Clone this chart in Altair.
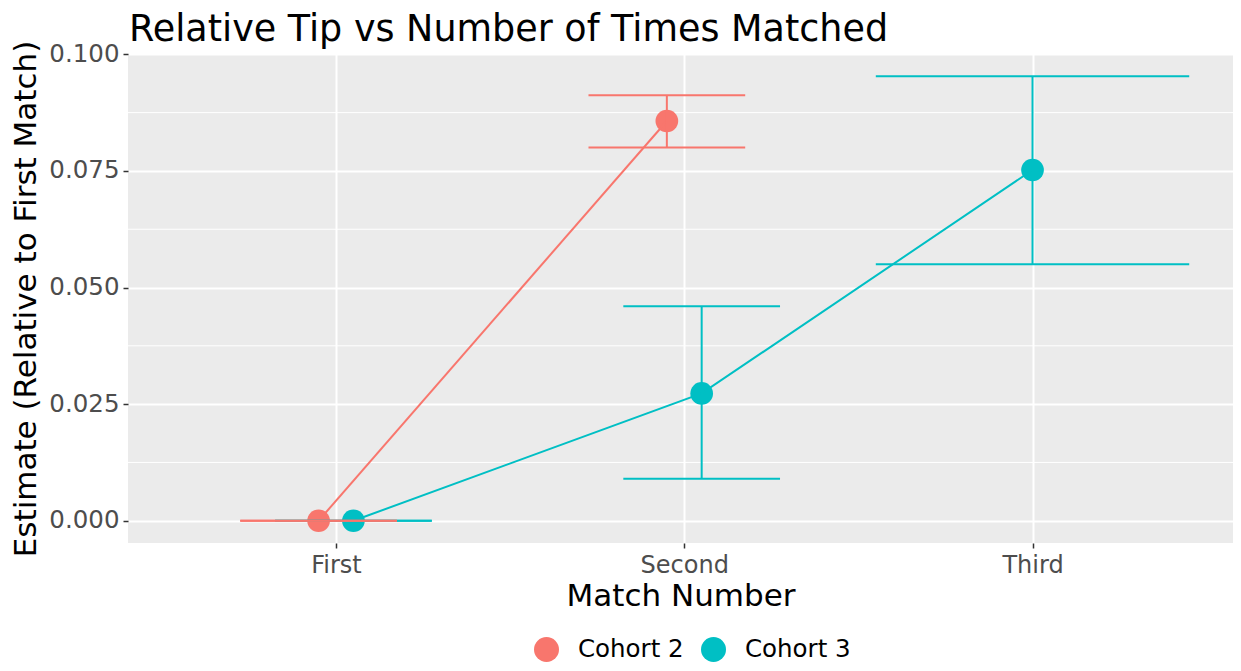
import altair as alt
import pandas as pd

# ---- data ----
matches = ["First", "Second", "Third"]
cohorts = ["Cohort 2", "Cohort 3"]
colors = ["#F8766D", "#00BFC4"]

c2_match = ["First", "Second"]
c2_est = [0.0, 0.0857]
c2_lo = [0.0, 0.0800]
c2_hi = [0.0, 0.0912]

c3_match = ["First", "Second", "Third"]
c3_est = [0.0, 0.0273, 0.0752]
c3_lo = [0.0, 0.0090, 0.0550]
c3_hi = [0.0, 0.0460, 0.0953]

y_ticks = [0.0, 0.025, 0.05, 0.075, 0.1]
y_minor = [0.0125, 0.0375, 0.0625, 0.0875]

# ---- build table (ggplot-like dodge) ----
DODGE = 0.2
EBW = 0.9
rows = []
for cohort, ms, es, los, his in [("Cohort 2", c2_match, c2_est, c2_lo, c2_hi),
                                  ("Cohort 3", c3_match, c3_est, c3_lo, c3_hi)]:
    for m, e, lo, hi in zip(ms, es, los, his):
        rows.append(dict(cohort=cohort, match=m, est=e, lo=lo, hi=hi))
df = pd.DataFrame(rows)
df["n"] = df.groupby("match")["cohort"].transform("count")
df["k"] = df.groupby("match").cumcount()
df["pos"] = df["match"].map(lambda m: matches.index(m) + 1) + (df["k"] - (df["n"] - 1) / 2) * DODGE / df["n"]
df["xl"] = df["pos"] - EBW / (2 * df["n"])
df["xr"] = df["pos"] + EBW / (2 * df["n"])

whisk = pd.concat([
    df[["cohort", "xl", "xr"]].assign(yv=df["lo"]),
    df[["cohort", "xl", "xr"]].assign(yv=df["hi"]),
])
# draw Cohort 3 bars first so Cohort 2 bars sit on top
order = {"Cohort 3": 0, "Cohort 2": 1}
whisk = whisk.sort_values("cohort", key=lambda s: s.map(order), kind="stable")
vbar = df.sort_values("cohort", key=lambda s: s.map(order), kind="stable")

minor_df = pd.DataFrame({"yv": y_minor})

YT = "Estimate (Relative to First Match)"
XT = "Match Number"
FONT = "DejaVu Sans"

xscale = alt.Scale(domain=[0.4027, 3.5757], nice=False, zero=False)
yscale = alt.Scale(domain=[-0.00477, 0.10007], nice=False, zero=False)
cscale = alt.Scale(domain=cohorts, range=colors)

label_expr = "[" + ",".join("'%s'" % m for m in matches) + "][datum.value - 1]"

xaxis = alt.Axis(values=[1, 2, 3], labelExpr=label_expr, title=XT, grid=True,
                 gridColor="white", gridWidth=2, domain=False, tickSize=5,
                 tickColor="#333333", tickWidth=1.5, labelPadding=5,
                 labelFontSize=24, labelColor="#4D4D4D", labelFont=FONT,
                 titleFontSize=31, titleColor="black", titleFont=FONT,
                 titleFontWeight="normal", titlePadding=4)
yaxis = alt.Axis(values=y_ticks, format=".3f", title=YT, grid=True,
                 gridColor="white", gridWidth=2, domain=False, tickSize=5,
                 tickColor="#333333", tickWidth=1.5, labelPadding=4,
                 labelFontSize=24.5, labelColor="#4D4D4D", labelFont=FONT,
                 titleFontSize=31, titleColor="black", titleFont=FONT,
                 titleFontWeight="normal", titlePadding=6)

minor = alt.Chart(minor_df).mark_rule(color="white", strokeWidth=1).encode(
    y=alt.Y("yv:Q", scale=yscale, title=YT, axis=yaxis)
)

lines = alt.Chart(df).mark_line(strokeWidth=2).encode(
    x=alt.X("pos:Q", scale=xscale, title=XT, axis=xaxis),
    y=alt.Y("est:Q", scale=yscale, title=YT),
    color=alt.Color("cohort:N", scale=cscale, legend=None),
    detail="cohort:N",
    order="pos:Q",
)

points = alt.Chart(df).mark_point(filled=True, opacity=1, size=515, shape="circle").encode(
    x=alt.X("pos:Q", scale=xscale, title=XT),
    y=alt.Y("est:Q", scale=yscale, title=YT),
    color=alt.Color("cohort:N", scale=cscale, legend=alt.Legend(
        title=None, orient="none", legendX=406, legendY=583, direction="horizontal",
        symbolSize=625, symbolType="circle", symbolOpacity=1, symbolStrokeWidth=0,
        labelFontSize=24.5, labelFont=FONT, labelColor="black", labelOffset=19,
        columnPadding=17, padding=0)),
)

vrules = alt.Chart(vbar).mark_rule(strokeWidth=2).encode(
    x=alt.X("pos:Q", scale=xscale, title=XT),
    y=alt.Y("lo:Q", scale=yscale, title=YT),
    y2="hi:Q",
    color=alt.Color("cohort:N", scale=cscale, legend=None),
)

hrules = alt.Chart(whisk).mark_rule(strokeWidth=2).encode(
    x=alt.X("xl:Q", scale=xscale, title=XT),
    x2="xr:Q",
    y=alt.Y("yv:Q", scale=yscale, title=YT),
    color=alt.Color("cohort:N", scale=cscale, legend=None),
)

chart = alt.layer(minor, points, lines, vrules, hrules).properties(
    width=1105,
    height=489,
    autosize=alt.AutoSizeParams(type="none"),
    padding={"left": 120, "top": 46, "right": 0, "bottom": 120},
    title=alt.Title("Relative Tip vs Number of Times Matched", anchor="start",
                    frame="group", fontSize=36.5, font=FONT, fontWeight="normal",
                    color="black", offset=-8, dx=1),
).configure(font=FONT).configure_view(fill="#EBEBEB", strokeWidth=0)

chart.save("out.html", embed_options={"renderer": "svg", "actions": False})
